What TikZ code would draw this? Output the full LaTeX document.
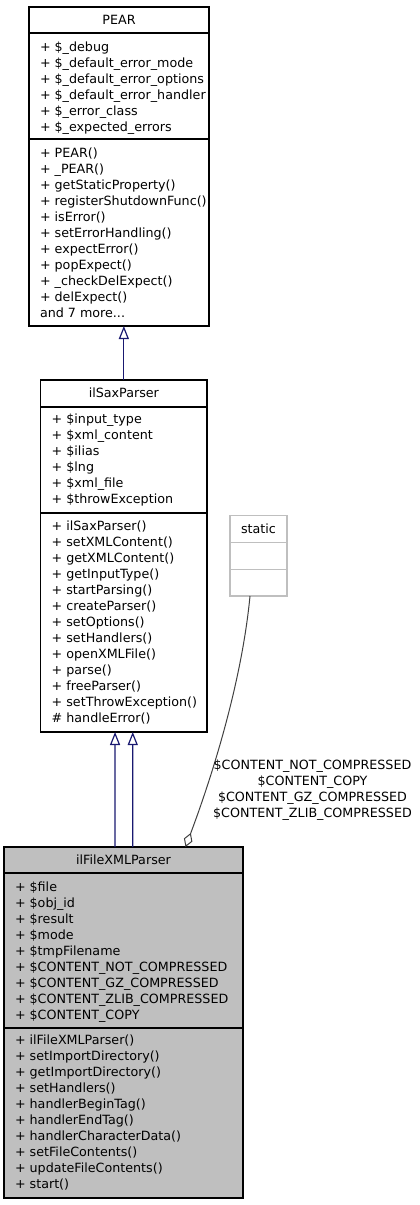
\documentclass[tikz,border=0pt]{standalone}
\usepackage{fontspec}
\setmainfont{DejaVu Sans}
\usetikzlibrary{arrows.meta,calc}
\definecolor{inhcol}{HTML}{191970}
\definecolor{aggcol}{HTML}{404040}
\definecolor{grayfill}{HTML}{BFBFBF}
\begin{document}
\begin{tikzpicture}[x=1pt,y=-1pt,
  every node/.style={font=\fontsize{12.7}{16}\selectfont, inner sep=0pt, outer sep=0pt},
  classbox/.style={draw=black, line width=1.3pt, fill=white, anchor=north west},
  sepline/.style={draw=black, line width=1.6pt},
  row/.style={anchor=base west},
  inh/.style={draw=inhcol, line width=1.2pt, {Triangle[open,length=13pt,width=10pt]}-},
  agg/.style={draw=aggcol, line width=1pt, -{Diamond[open,length=15pt,width=9pt]}}]
\useasboundingbox (0,0) rectangle (420,1205);

% ---------- PEAR ----------
\node[classbox, minimum width=180pt, minimum height=319pt] (pear) at (29,7) {};
\draw[sepline] (pear.west |- 0,33) -- (pear.east |- 0,33);
\draw[sepline] (pear.west |- 0,139) -- (pear.east |- 0,139);
\node[anchor=base] (pearh) at ($(pear.north)+(0,17.5)$) {PEAR};
\foreach \t [count=\i from 0] in {+ \$\_debug, + \$\_default\_error\_mode, + \$\_default\_error\_options, + \$\_default\_error\_handler, + \$\_error\_class, + \$\_expected\_errors}
  \node[row] (pa\i) at (40,{51.2+16*\i}) {\t};
\foreach \t [count=\i from 0] in {+ PEAR(), + \_PEAR(), + getStaticProperty(), + registerShutdownFunc(), + isError(), + setErrorHandling(), + expectError(), + popExpect(), + \_checkDelExpect(), + delExpect(), {and 7 more.{}.{}.}}
  \node[row] (pm\i) at (40,{157.2+16*\i}) {\t};

% ---------- ilSaxParser ----------
\node[classbox, minimum width=166.3pt, minimum height=352pt] (sax) at (40.7,380) {};
\draw[sepline] (sax.west |- 0,406.7) -- (sax.east |- 0,406.7);
\draw[sepline] (sax.west |- 0,513) -- (sax.east |- 0,513);
\node[anchor=base] (saxh) at ($(sax.north)+(0,17.5)$) {ilSaxParser};
\foreach \t [count=\i from 0] in {+ \$input\_type, + \$xml\_content, + \$ilias, + \$lng, + \$xml\_file, + \$throwException}
  \node[row] (sa\i) at (51.7,{423.8+16*\i}) {\t};
\foreach \t [count=\i from 0] in {+ ilSaxParser(), + setXMLContent(), + getXMLContent(), + getInputType(), + startParsing(), + createParser(), + setOptions(), + setHandlers(), + openXMLFile(), + parse(), + freeParser(), + setThrowException(), \# handleError()}
  \node[row] (sm\i) at (51.7,{530.5+16*\i}) {\t};

% ---------- static ----------
\node[draw=grayfill, line width=1.3pt, fill=white, anchor=north west, minimum width=57pt, minimum height=80.3pt] (static) at (230,515.7) {};
\draw[draw=grayfill, line width=1.3pt] (static.west |- 0,542.7) -- (static.east |- 0,542.7);
\draw[draw=grayfill, line width=1.3pt] (static.west |- 0,569.3) -- (static.east |- 0,569.3);
\node[anchor=base] (statich) at ($(static.north)+(0,17.8)$) {static};

% ---------- ilFileXMLParser ----------
\node[classbox, fill=grayfill, minimum width=239pt, minimum height=351pt] (file) at (4,847) {};
\draw[sepline] (file.west |- 0,873) -- (file.east |- 0,873);
\draw[sepline] (file.west |- 0,1028) -- (file.east |- 0,1028);
\node[anchor=base] (fileh) at ($(file.north)+(0,17.5)$) {ilFileXMLParser};
\foreach \t [count=\i from 0] in {+ \$file, + \$obj\_id, + \$result, + \$mode, + \$tmpFilename, + \$CONTENT\_NOT\_COMPRESSED, + \$CONTENT\_GZ\_COMPRESSED, + \$CONTENT\_ZLIB\_COMPRESSED, + \$CONTENT\_COPY}
  \node[row] (fa\i) at (15,{891.2+16*\i}) {\t};
\foreach \t [count=\i from 0] in {+ ilFileXMLParser(), + setImportDirectory(), + getImportDirectory(), + setHandlers(), + handlerBeginTag(), + handlerEndTag(), + handlerCharacterData(), + setFileContents(), + updateFileContents(), + start()}
  \node[row] (fm\i) at (15,{1044.5+16*\i}) {\t};

% ---------- connectors ----------
\draw[inh] (pear.south -| sax.north) -- (sax.north);
\draw[inh] ($(sax.south)+(-8.8,0)$) -- ($(file.north)+(-8.5,0)$);
\draw[inh] ($(sax.south)+(8.9,0)$) -- ($(file.north)+(9.2,0)$);
\draw[agg] ($(static.south)+(-8.5,0)$) .. controls (241,690) and (207,790) .. ($(file.north)+(62,0)$);
\node[align=center] (agglbl) at (312.5,790) {\$CONTENT\_NOT\_COMPRESSED\\\$CONTENT\_COPY\\\$CONTENT\_GZ\_COMPRESSED\\\$CONTENT\_ZLIB\_COMPRESSED};
\end{tikzpicture}
\end{document}
